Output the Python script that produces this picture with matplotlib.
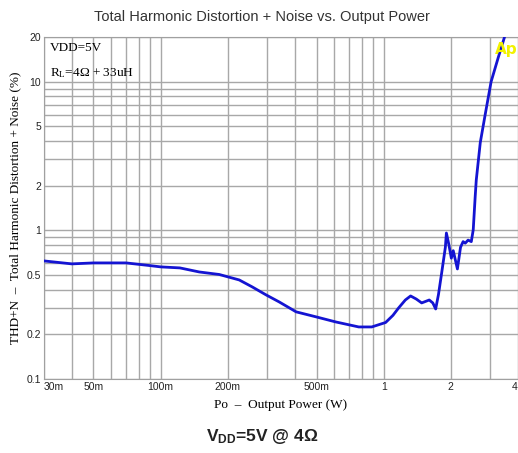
import matplotlib
matplotlib.use('Agg')
import matplotlib.pyplot as plt
from matplotlib.ticker import FixedLocator, NullFormatter, LogLocator

plt.rcParams['mathtext.default'] = 'regular'

# THD+N curve (W, %)
power_w = [0.030, 0.040, 0.050, 0.060, 0.070, 0.089, 0.100, 0.122, 0.149, 0.183,
           0.225, 0.257, 0.297, 0.340, 0.405, 0.497, 0.610, 0.773, 0.884, 1.02,
           1.10, 1.167, 1.25, 1.32, 1.40, 1.48, 1.60, 1.66, 1.71, 1.76,
           1.80, 1.82, 1.89, 1.91, 1.96, 2.01, 2.05, 2.14, 2.21, 2.27,
           2.32, 2.39, 2.47, 2.52, 2.57, 2.60, 2.71, 2.85, 3.03, 3.26, 3.47]
thdn_pct = [0.623, 0.595, 0.604, 0.604, 0.604, 0.580, 0.568, 0.559, 0.525, 0.505,
            0.464, 0.417, 0.368, 0.330, 0.283, 0.262, 0.242, 0.224, 0.224, 0.240,
            0.268, 0.301, 0.340, 0.362, 0.345, 0.325, 0.340, 0.325, 0.296, 0.370,
            0.465, 0.520, 0.770, 0.960, 0.800, 0.650, 0.730, 0.550, 0.770, 0.840,
            0.820, 0.860, 0.840, 1.01, 1.67, 2.18, 3.9, 6.0, 10.0, 14.5, 19.7]

x_ticks = [0.03, 0.05, 0.1, 0.2, 0.5, 1, 2, 4]
x_labels = ['30m', '50m', '100m', '200m', '500m', '1', '2', '4']
y_ticks = [0.1, 0.2, 0.5, 1, 2, 5, 10, 20]
y_labels = ['0.1', '0.2', '0.5', '1', '2', '5', '10', '20']

fig = plt.figure(figsize=(5.18, 4.53), dpi=100)
ax = fig.add_axes([44/518, 1 - 379/453, 474/518, (379 - 37)/453])

ax.plot(power_w, thdn_pct, color='#1414d2', linewidth=2.0, zorder=3)

ax.set_xscale('log')
ax.set_yscale('log')
ax.set_xlim(0.03, 4.0)
ax.set_ylim(0.1, 20)

# grid on every 1..9 decade step, like the reference
ax.xaxis.set_minor_locator(LogLocator(base=10, subs=range(1, 10), numticks=20))
ax.yaxis.set_minor_locator(LogLocator(base=10, subs=range(1, 10), numticks=20))
ax.xaxis.set_minor_formatter(NullFormatter())
ax.yaxis.set_minor_formatter(NullFormatter())
ax.xaxis.set_major_locator(FixedLocator(x_ticks))
ax.yaxis.set_major_locator(FixedLocator(y_ticks))
ax.set_xticklabels(x_labels)
ax.set_yticklabels(y_labels)
ax.grid(True, which='both', color='#a8a8a8', linewidth=1.0, zorder=0)
ax.set_axisbelow(True)

ax.tick_params(which='both', length=0, labelsize=7.5, colors='#222222', pad=2)
for lbl in ax.get_xticklabels() + ax.get_yticklabels():
    lbl.set_family(['Liberation Sans Narrow', 'Liberation Sans', 'DejaVu Sans'])
ax.get_xticklabels()[0].set_horizontalalignment('left')   # 30m sits right of its line
ax.get_xticklabels()[-1].set_horizontalalignment('right')  # keep "4" inside the figure

for side in ['left', 'bottom', 'top']:
    ax.spines[side].set_color('#a0a0a0')
ax.spines['right'].set_visible(False)

ax.set_xlabel('Po  \u2013  Output Power (W)', family='Liberation Serif',
              fontsize=9.5, labelpad=5)
ax.set_ylabel('THD+N  \u2013  Total Harmonic Distortion + Noise (%)',
              family='Liberation Serif', fontsize=9.5, labelpad=4)

ax.text(0.013, 0.985, 'VDD=5V', transform=ax.transAxes, ha='left', va='top',
        family='Liberation Serif', fontsize=9.5)
ax.text(0.013, 0.915, 'R$_\\mathregular{L}$=4\u03a9 + 33uH',
        transform=ax.transAxes, ha='left', va='top',
        family='Liberation Serif', fontsize=9.5)
ax.text(1.0, 0.985, 'Ap', transform=ax.transAxes, ha='right', va='top',
        color='#f2f200', fontsize=11, fontweight='bold',
        family='Liberation Sans Narrow', clip_on=False)

fig.text(262/518, 1 - 17/453, 'Total Harmonic Distortion + Noise vs. Output Power',
         ha='center', va='center', family='Liberation Sans', fontsize=10.5,
         color='#333333')
fig.text(262/518, 1 - 437/453, 'V$_\\mathregular{DD}$=5V @ 4\u03a9',
         ha='center', va='center', family='Liberation Sans', fontsize=12.5,
         fontweight='bold', color='#222222')

fig.savefig('out.png', dpi=100)
